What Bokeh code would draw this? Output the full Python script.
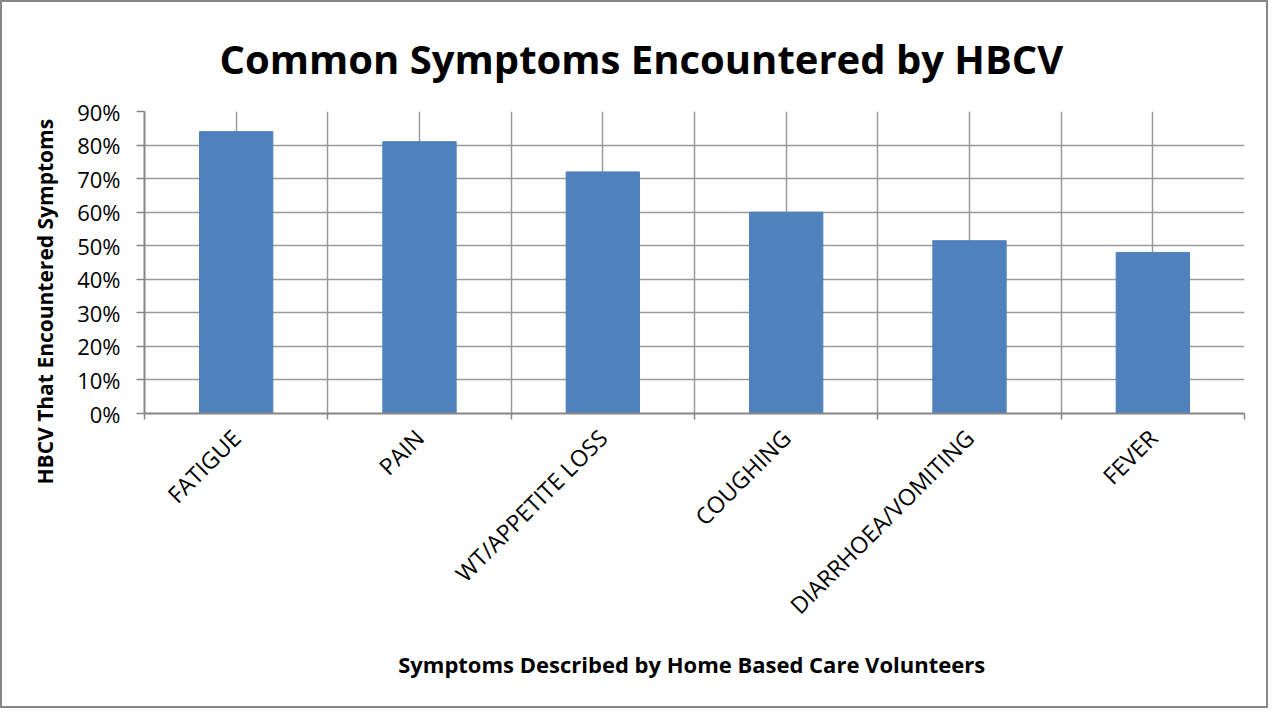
import math
from bokeh.plotting import figure
from bokeh.models import FixedTicker, NumeralTickFormatter, Range1d, Title
from bokeh.embed import file_html
from bokeh.resources import INLINE

categories = ["FATIGUE", "PAIN", "WT/APPETITE LOSS", "COUGHING", "DIARRHOEA/VOMITING", "FEVER"]
values = [0.84, 0.81, 0.72, 0.60, 0.515, 0.48]
y_ticks = [0.0, 0.1, 0.2, 0.3, 0.4, 0.5, 0.6, 0.7, 0.8, 0.9]

n = len(categories)
centers = [i + 0.5 for i in range(n)]
bounds = [float(i) for i in range(n + 1)]
halves = sorted(set(centers + bounds))

FONT = "Open Sans"

p = figure(width=1268, height=708, output_backend="svg", toolbar_location=None,
           x_range=Range1d(0, n), y_range=Range1d(0, 0.9),
           min_border_left=142, min_border_right=26, min_border_top=109, min_border_bottom=297)
p.styles = {"border": "2px solid #878787"}
p.outline_line_color = None
p.background_fill_color = "white"
p.border_fill_color = "white"

p.vbar(x=centers, top=values, width=0.4, fill_color="#4F81BD", line_color="#4F81BD", line_width=1)

# grids
p.xgrid.ticker = FixedTicker(ticks=halves)
p.ygrid.ticker = FixedTicker(ticks=y_ticks)
for g in (p.xgrid, p.ygrid):
    g.grid_line_color = "#9a9a9a"
    g.grid_line_width = 1.5

# x axis
xa = p.xaxis[0]
xa.ticker = FixedTicker(ticks=centers, minor_ticks=bounds)
xa.major_label_overrides = {c: lab for c, lab in zip(centers, categories)}
xa.major_label_orientation = math.pi / 4
xa.major_tick_out = 0
xa.major_tick_in = 0
xa.minor_tick_out = 6
xa.minor_tick_in = 0
xa.minor_tick_line_color = "#868686"
xa.minor_tick_line_width = 1.5
xa.axis_line_color = "#868686"
xa.axis_line_width = 2
xa.major_label_text_font = FONT
xa.major_label_text_font_size = "23px"
xa.major_label_text_color = "black"
xa.major_label_standoff = 14
xa.axis_label = "Symptoms Described by Home Based  Care Volunteers"
xa.axis_label_text_font = FONT
xa.axis_label_text_font_style = "bold"
xa.axis_label_text_font_size = "22px"
xa.axis_label_text_color = "black"
xa.axis_label_standoff = 14

# y axis
ya = p.yaxis[0]
ya.ticker = FixedTicker(ticks=y_ticks)
ya.formatter = NumeralTickFormatter(format="0%")
ya.minor_tick_line_color = None
ya.major_tick_out = 8
ya.major_tick_in = 0
ya.major_tick_line_color = "#868686"
ya.major_tick_line_width = 1.5
ya.axis_line_color = "#868686"
ya.axis_line_width = 2
ya.major_label_text_font = FONT
ya.major_label_text_font_size = "22px"
ya.major_label_text_color = "black"
ya.major_label_standoff = 16

ytitle = Title(text="HBCV That Encountered Symptoms", align="left", offset=-71,
               text_font=FONT, text_font_style="bold", text_font_size="21px",
               text_color="black", standoff=32)
p.add_layout(ytitle, "left")

p.title.text = "Common Symptoms Encountered by HBCV"
p.title.text_font = FONT
p.title.text_font_style = "bold"
p.title.text_font_size = "40px"
p.title.text_color = "black"
p.title.align = "left"
p.title.offset = 75
p.title.standoff = 51

open("out.html", "w").write(file_html(p, INLINE))
